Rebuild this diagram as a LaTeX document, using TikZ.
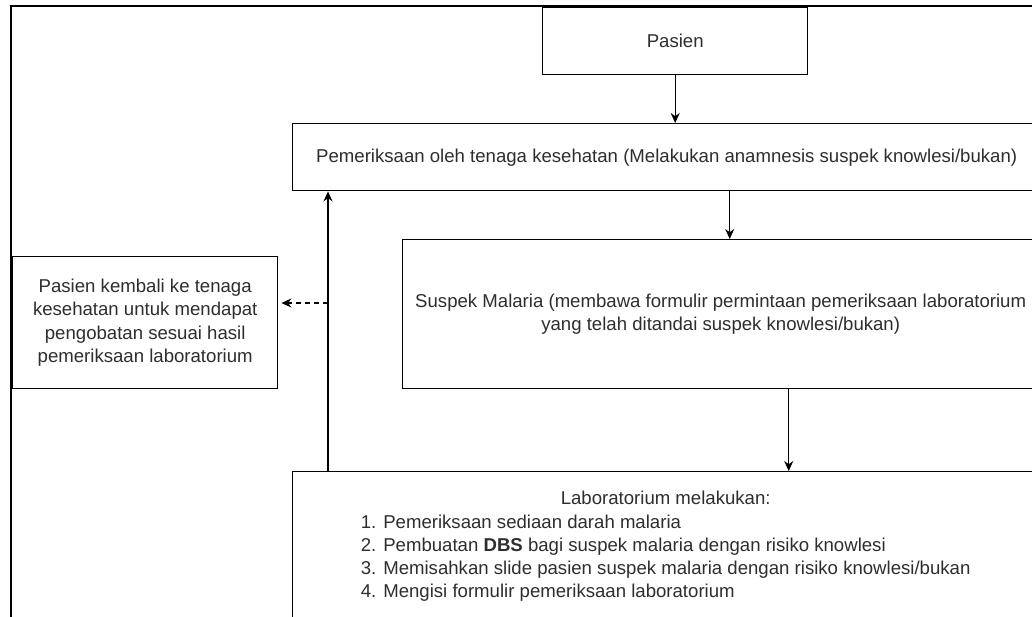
\documentclass[tikz,border=0pt]{standalone}
\usepackage{fontspec}
\setmainfont{Liberation Sans}
\usetikzlibrary{arrows.meta}
\definecolor{txt}{HTML}{2E2E2E}
\tikzset{
  box/.style={draw=black, line width=1.4pt, rectangle, inner sep=0pt, align=center,
    text=txt, font=\fontsize{18.6}{23.3}\selectfont, anchor=north west},
  arr/.style={draw=black, line width=1.4pt, -{Stealth[length=10pt,width=9pt]}},
  darr/.style={arr, dash pattern=on 5pt off 4pt, shorten >=3pt},
  frame/.style={draw=black, line width=2.4pt}
}
\begin{document}
\begin{tikzpicture}[x=1pt,y=-1pt]
\useasboundingbox (0,0) rectangle (1032,617);
\fill[white] (0,0) rectangle (1032,617);
\clip (0,0) rectangle (1032,617);
\draw[frame] (11,6) rectangle (1060,640);
\node[box, minimum width=265, minimum height=67] (pasien) at (542,7) {Pasien};
\node[box, minimum width=748, minimum height=67] (periksa) at (292,123)
  {Pemeriksaan oleh tenaga kesehatan (Melakukan anamnesis suspek knowlesi/bukan)};
\node[box, minimum width=636, minimum height=149] (suspek) at (402,239)
  {Suspek Malaria (membawa formulir permintaan pemeriksaan laboratorium\\yang telah ditandai suspek knowlesi/bukan)};
\node[box, minimum width=265, minimum height=132] (kembali) at (12,256)
  {Pasien kembali ke tenaga\\kesehatan untuk mendapat\\pengobatan sesuai hasil\\pemeriksaan laboratorium};
\node[box, minimum width=746, minimum height=150] (lab) at (292,471)
  {\begin{tabular}{@{}l@{}}
   \multicolumn{1}{@{}c@{}}{Laboratorium melakukan:}\\
   1. Pemeriksaan sediaan darah malaria\\
   2. Pembuatan \textbf{DBS} bagi suspek malaria dengan risiko knowlesi\\
   3. Memisahkan slide pasien suspek malaria dengan risiko knowlesi/bukan\\
   4. Mengisi formulir pemeriksaan laboratorium
   \end{tabular}};
\draw[arr] (pasien.south) -- (pasien.south |- periksa.north);
\draw[arr] ([xshift=9pt]suspek.north |- periksa.south) -- ([xshift=9pt]suspek.north);
\draw[arr] ([xshift=68pt]suspek.south) -- ([xshift=68pt]suspek.south |- lab.north);
\draw[arr] ([xshift=36pt]lab.north west) -- ([xshift=36pt]lab.north west |- periksa.south);
\coordinate (dsrc) at (328,303);
\draw[darr] (dsrc) -- (dsrc -| kembali.east);
\end{tikzpicture}
\end{document}
